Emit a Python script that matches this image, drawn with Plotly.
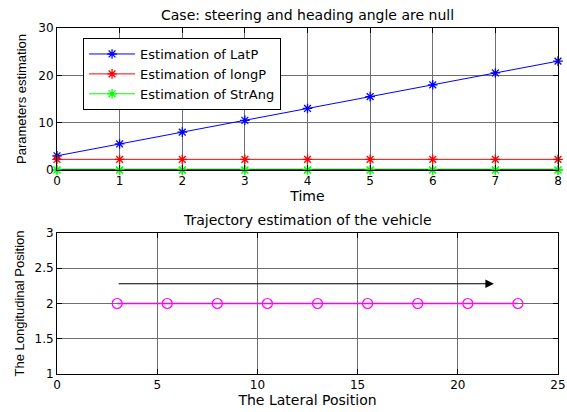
import plotly.graph_objects as go

time = [0, 1, 2, 3, 4, 5, 6, 7, 8]
lat_p = [3, 5.5, 8, 10.5, 13, 15.5, 18, 20.5, 23]
long_p = [2.25, 2.25, 2.25, 2.25, 2.25, 2.25, 2.25, 2.25, 2.25]
str_ang = [0, 0, 0, 0, 0, 0, 0, 0, 0]

traj_x = [3, 5.5, 8, 10.5, 13, 15.5, 18, 20.5, 23]
traj_y = [2, 2, 2, 2, 2, 2, 2, 2, 2]
arrow_start = (3, 2.28)
arrow_end = (21.8, 2.28)

wide_font = "DejaVu Sans, Verdana, sans-serif"
base_font = "Liberation Sans, Arial, sans-serif"

fig = go.Figure()

def star(color):
    return dict(symbol="asterisk-open", size=8, color=color, line=dict(color=color, width=1.3))

fig.add_trace(go.Scatter(x=time, y=lat_p, mode="lines+markers", name="Estimation of LatP",
                         line=dict(color="#0000ff", width=1), marker=star("#0000ff"),
                         xaxis="x", yaxis="y", cliponaxis=False))
fig.add_trace(go.Scatter(x=time, y=long_p, mode="lines+markers", name="Estimation of longP",
                         line=dict(color="#ff0000", width=1), marker=star("#ff0000"),
                         xaxis="x", yaxis="y", cliponaxis=False))
fig.add_trace(go.Scatter(x=time, y=str_ang, mode="lines+markers", name="Estimation of StrAng",
                         line=dict(color="#00ff00", width=1), marker=star("#00ff00"),
                         xaxis="x", yaxis="y", cliponaxis=False))
fig.add_trace(go.Scatter(x=time, y=str_ang, mode="lines", showlegend=False,
                         line=dict(color="#008000", width=2.5), hoverinfo="skip",
                         xaxis="x", yaxis="y", cliponaxis=False))
fig.add_trace(go.Scatter(x=time, y=str_ang, mode="markers", showlegend=False,
                         marker=star("#00ff00"), hoverinfo="skip",
                         xaxis="x", yaxis="y", cliponaxis=False))

fig.add_trace(go.Scatter(x=traj_x, y=traj_y, mode="lines+markers", showlegend=False,
                         line=dict(color="#ff00ff", width=1.3),
                         marker=dict(symbol="circle-open", size=10, color="#ff00ff", line=dict(width=1.2, color="#ff00ff")),
                         xaxis="x2", yaxis="y2"))

fig.add_annotation(x=arrow_end[0], y=arrow_end[1], ax=arrow_start[0], ay=arrow_start[1],
                   xref="x2", yref="y2", axref="x2", ayref="y2", showarrow=True,
                   arrowhead=2, arrowsize=1.7, arrowwidth=1, arrowcolor="#000000", text="")

axis_common = dict(showline=True, linecolor="black", linewidth=1, mirror="ticks",
                   ticks="inside", ticklen=5, tickcolor="black", automargin=False,
                   showgrid=True, gridcolor="#6e6e6e", gridwidth=1, zeroline=False,
                   tickfont=dict(size=12, color="black", family=wide_font))

fig.update_layout(
    width=567, height=412,
    margin=dict(l=57, r=9, t=28, b=38),
    paper_bgcolor="white", plot_bgcolor="white",
    font=dict(family=wide_font, color="black", size=14),
    xaxis=dict(domain=[0, 1], range=[0, 8], dtick=1, anchor="y", **axis_common,
               title=dict(text="Time", font=dict(size=14, family=wide_font), standoff=2)),
    yaxis=dict(domain=[0.5896, 1], range=[0, 30], dtick=10, anchor="x", **axis_common,
               title=dict(text="Parameters estimation", font=dict(size=13, family=base_font), standoff=8)),
    xaxis2=dict(domain=[0, 1], range=[0, 25], dtick=5, anchor="y2", **axis_common,
                title=dict(text="The Lateral Position", font=dict(size=14, family=wide_font), standoff=2)),
    yaxis2=dict(domain=[0, 0.4075], range=[1, 3], dtick=0.5, anchor="x2", **axis_common,
                title=dict(text="The Longitudinal Position", font=dict(size=13, family=base_font), standoff=6)),
    legend=dict(x=0.052, y=0.971, xanchor="left", yanchor="top",
                bordercolor="black", borderwidth=1, bgcolor="white",
                font=dict(size=13, family=wide_font), itemwidth=46,
                tracegroupgap=0),
    showlegend=True,
)

fig.add_annotation(text="Case: steering and heading angle are null", xref="paper", yref="paper",
                   x=0.5, y=1, yshift=3, xanchor="center", yanchor="bottom", showarrow=False,
                   font=dict(size=14, family=wide_font))
fig.add_annotation(text="Trajectory estimation of the vehicle", xref="paper", yref="paper",
                   x=0.5, y=0.4075, yshift=3, xanchor="center", yanchor="bottom", showarrow=False,
                   font=dict(size=14, family=wide_font))

fig.write_html("out.html")
